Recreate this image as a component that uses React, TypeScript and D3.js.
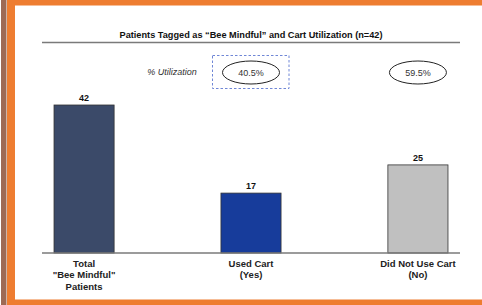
import { scaleBand, scaleLinear } from "d3";

const categories = ["total", "yes", "no"];
const counts = [42, 17, 25];
const labelLines = [
    ["Total", "\"Bee Mindful\"", "Patients"],
    ["Used Cart", "(Yes)"],
    ["Did Not Use Cart", "(No)"],
];
const barColors = ["#3b4a69", "#173c9b", "#c0c0c0"];
const utilization = [
    { key: "yes", label: "40.5%" },
    { key: "no", label: "59.5%" },
];

const W = 482;
const H = 305;
const font = "'Liberation Sans', Arial, sans-serif";

export default function App() {
    const left = 42;
    const right = 460;
    const baseY = 253;

    const x = scaleBand()
        .domain(categories)
        .range([left, right])
        .paddingInner(0.64)
        .paddingOuter(0.072);
    const y = scaleLinear().domain([0, 42]).range([baseY, 105]);

    return (
        <svg
            width={W}
            height={H}
            style={{ position: "fixed", left: 0, top: 0, background: "#fff" }}
        >
            {/* frame */}
            <rect x={0} y={0} width={W} height={H} fill="#fff" />
            <rect x={1} y={0} width={5.5} height={H} fill="#9e6a55" />
            <rect x={7} y={0} width={W - 7} height={5.5} fill="#ee7d31" />
            <rect x={7} y={0} width={8} height={H} fill="#ee7d31" />
            <rect x={7} y={299.5} width={W - 7} height={6} fill="#ee7d31" />

            <text
                x={251}
                y={38}
                textAnchor="middle"
                fontFamily={font}
                fontWeight="bold"
                fontSize={9.2}
                fill="#111"
            >
                Patients Tagged as “Bee Mindful” and Cart Utilization (n=42)
            </text>
            <line x1={left} x2={right} y1={42.5} y2={42.5} stroke="#7a7a7a" strokeWidth={1.3} />

            <text
                x={172}
                y={75}
                textAnchor="middle"
                fontFamily={font}
                fontStyle="italic"
                fontSize={9}
                fill="#333"
            >
                % Utilization
            </text>
            <rect
                x={212.5}
                y={55.5}
                width={76.5}
                height={33}
                fill="none"
                stroke="#6f86d6"
                strokeWidth={1}
                strokeDasharray="2.5,2"
            />
            {utilization.map((u) => {
                const cx = (x(u.key) ?? 0) + x.bandwidth() / 2;
                return (
                    <g key={u.key}>
                        <ellipse
                            cx={cx}
                            cy={72.5}
                            rx={28.5}
                            ry={11.5}
                            fill="none"
                            stroke="#222"
                            strokeWidth={1}
                        />
                        <text
                            x={cx}
                            y={75.5}
                            textAnchor="middle"
                            fontFamily={font}
                            fontSize={9}
                            fill="#333"
                        >
                            {u.label}
                        </text>
                    </g>
                );
            })}

            {categories.map((c, i) => {
                const bx = x(c) ?? 0;
                const cx = bx + x.bandwidth() / 2;
                return (
                    <g key={c}>
                        <rect
                            x={bx}
                            y={y(counts[i])}
                            width={x.bandwidth()}
                            height={baseY - y(counts[i])}
                            fill={barColors[i]}
                            stroke="#333"
                            strokeWidth={0.8}
                        />
                        <text
                            x={cx}
                            y={y(counts[i]) - 4}
                            textAnchor="middle"
                            fontFamily={font}
                            fontWeight="bold"
                            fontSize={9}
                            fill="#111"
                        >
                            {counts[i]}
                        </text>
                        {labelLines[i].map((line, j) => (
                            <text
                                key={j}
                                x={cx}
                                y={267 + j * 11.3}
                                textAnchor="middle"
                                fontFamily={font}
                                fontWeight="bold"
                                fontSize={9.5}
                                fill="#222"
                            >
                                {line}
                            </text>
                        ))}
                    </g>
                );
            })}
            <line x1={left} x2={right} y1={baseY} y2={baseY} stroke="#7a7a7a" strokeWidth={1.3} />
        </svg>
    );
}
